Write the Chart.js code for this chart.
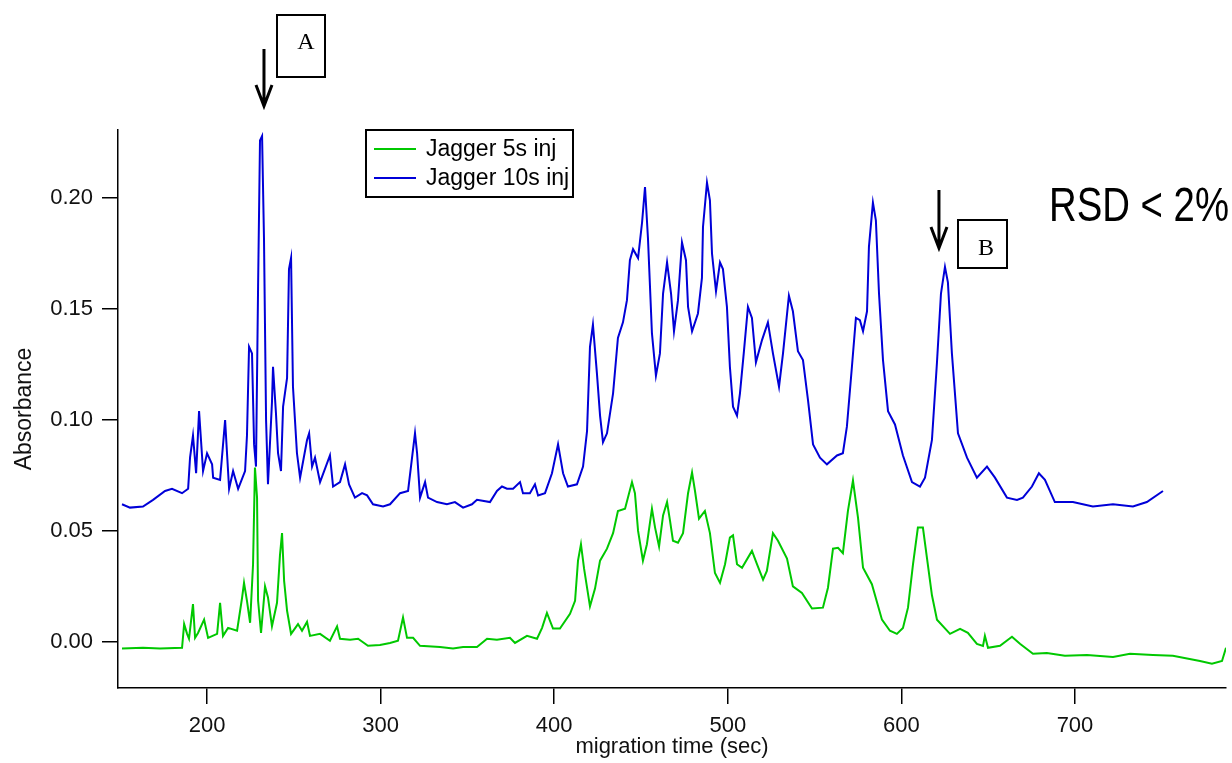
<!DOCTYPE html>
<html>
<head>
<meta charset="utf-8">
<title>Jagger injections</title>
<script src="https://cdn.jsdelivr.net/npm/chart.js@4.4.0/dist/chart.umd.min.js"></script>
<style>
  html, body { margin: 0; padding: 0; background: #fff; }
  #wrap { width: 1232px; height: 763px; }
</style>
</head>
<body>
<div id="wrap"><canvas id="chart" width="1232" height="763"></canvas></div>
<script>
// migration time (sec) and absorbance for each run
const seriesNames = ['Jagger 5s inj', 'Jagger 10s inj'];

const time5 = [
  151.0,163.1,172.9,185.6,186.8,188.5,189.6,191.9,193.1,194.8,
  198.3,200.6,205.8,207.5,209.2,212.1,217.3,220.2,221.3,223.0,
  224.8,226.5,227.6,228.8,229.4,231.1,233.4,235.1,237.4,240.3,
  242.0,243.2,244.4,246.1,248.4,252.4,254.7,257.6,259.3,265.1,
  270.8,274.9,276.6,282.4,287.0,292.7,299.6,305.4,310.0,312.9,
  315.2,318.7,322.7,334.2,341.7,347.5,355.5,361.3,367.0,374.5,
  377.4,384.3,390.1,393.0,395.8,399.3,403.3,409.1,412.0,413.7,
  415.4,417.2,420.6,423.5,426.4,430.4,433.9,436.7,440.8,444.8,
  446.5,448.3,451.1,453.4,456.3,458.1,460.4,462.7,465.0,466.7,
  468.4,471.3,474.2,477.1,479.4,481.1,483.4,486.8,489.7,492.6,
  495.5,498.4,501.2,503.0,505.3,508.2,513.9,516.8,520.3,522.5,
  526.0,528.9,534.1,537.5,542.7,548.5,554.8,557.7,560.6,563.5,
  566.3,569.2,572.1,575.0,577.9,583.0,588.8,593.4,597.4,600.9,
  603.8,606.7,609.5,612.4,614.7,617.6,620.5,628.0,633.8,638.3,
  643.5,647.0,648.1,649.9,656.8,663.7,668.3,675.8,683.8,694.2,
  706.9,721.9,731.7,744.9,756.4,772.0,778.9,784.7,787.0
];
const abs5 = [
  -0.003,-0.0027,-0.003,-0.0027,0.008,0.0036,0.0014,0.017,0.0018,0.004,
  0.010,0.0018,0.0036,0.0176,0.0027,0.0063,0.005,0.020,0.0266,0.0185,
  0.0086,0.035,0.0786,0.065,0.0185,0.004,0.025,0.020,0.007,0.0176,
  0.039,0.049,0.0275,0.014,0.0036,0.008,0.005,0.009,0.0027,0.0036,
  0.0005,0.007,0.0014,0.0009,0.0014,-0.0018,-0.0014,-0.0005,0.0005,0.011,
  0.0018,0.0018,-0.0018,-0.0023,-0.003,-0.0023,-0.0023,0.0014,0.0009,0.0018,
  -0.0005,0.0027,0.0014,0.0063,0.013,0.006,0.006,0.0126,0.0185,0.0366,
  0.044,0.033,0.016,0.024,0.0366,0.042,0.049,0.059,0.060,0.072,
  0.067,0.050,0.0366,0.044,0.060,0.0515,0.043,0.057,0.063,0.0546,
  0.0456,0.0447,0.049,0.067,0.0763,0.068,0.0555,0.059,0.049,0.031,
  0.0266,0.035,0.047,0.048,0.035,0.0334,0.041,0.035,0.028,0.032,
  0.049,0.0456,0.0375,0.025,0.022,0.015,0.0154,0.0244,0.042,0.0424,
  0.040,0.059,0.0727,0.056,0.0334,0.026,0.010,0.005,0.0036,0.0063,
  0.0154,0.035,0.0515,0.0515,0.038,0.021,0.010,0.0036,0.0059,0.0041,
  -0.0009,-0.0018,0.0027,-0.0027,-0.0018,0.0023,-0.0009,-0.0054,-0.005,-0.0063,
  -0.0059,-0.0068,-0.0054,-0.0059,-0.0063,-0.0086,-0.0099,-0.0086,-0.0027
];

const time10 = [
  151.0,155.6,163.1,168.9,175.8,179.8,185.6,189.1,190.2,191.9,
  193.7,195.4,197.7,200.0,202.9,203.5,207.5,210.4,211.5,212.7,
  215.0,217.9,221.9,223.0,224.2,225.9,227.1,228.2,229.4,230.5,
  231.7,232.8,234.0,235.1,237.4,238.0,239.7,240.9,242.6,243.8,
  246.1,247.2,248.4,249.5,251.8,253.6,257.6,258.8,260.5,262.2,
  265.1,270.8,272.6,276.6,279.5,281.8,285.2,289.3,292.2,295.6,
  301.4,305.4,311.2,315.8,318.1,319.8,321.0,322.7,325.6,327.3,
  332.5,338.2,342.8,347.5,352.6,355.5,363.0,367.0,369.9,372.8,
  376.3,380.3,382.0,386.0,388.9,390.7,394.7,398.7,402.2,405.1,
  407.9,413.1,416.6,418.9,420.6,422.3,424.6,426.4,428.1,430.4,
  433.9,436.7,439.6,441.9,443.6,445.4,448.3,450.6,452.3,454.0,
  456.3,458.6,460.9,462.7,465.0,467.3,469.0,471.3,473.6,475.9,
  477.1,479.4,482.8,485.1,485.7,488.0,489.7,490.9,493.2,495.5,
  497.2,499.5,501.2,503.0,505.3,507.0,509.3,511.6,513.9,516.2,
  519.7,523.1,526.0,529.5,531.8,535.2,537.5,540.4,543.3,546.2,
  549.1,553.1,557.1,562.9,566.3,568.6,571.5,573.8,576.1,577.9,
  580.2,581.3,583.6,585.3,587.1,589.4,592.3,596.3,600.9,606.1,
  610.7,613.6,617.6,620.5,622.8,625.1,626.8,629.1,632.6,637.8,
  643.5,649.3,653.9,660.8,666.6,670.0,675.2,679.2,682.7,688.4,
  698.8,710.3,721.9,733.4,741.4,750.7
];
const abs10 = [
  0.062,0.0605,0.061,0.064,0.068,0.069,0.067,0.069,0.083,0.093,
  0.076,0.104,0.077,0.085,0.080,0.074,0.073,0.100,0.085,0.069,
  0.077,0.069,0.077,0.093,0.133,0.130,0.089,0.079,0.160,0.226,
  0.228,0.182,0.100,0.071,0.108,0.124,0.103,0.085,0.077,0.106,
  0.119,0.168,0.173,0.115,0.085,0.074,0.091,0.094,0.079,0.083,
  0.072,0.084,0.070,0.072,0.080,0.071,0.065,0.067,0.066,0.062,
  0.061,0.062,0.067,0.068,0.083,0.094,0.085,0.065,0.072,0.065,
  0.063,0.062,0.063,0.0605,0.062,0.064,0.063,0.068,0.070,0.069,
  0.069,0.072,0.067,0.067,0.071,0.066,0.067,0.076,0.089,0.076,
  0.070,0.071,0.079,0.095,0.133,0.143,0.121,0.102,0.090,0.094,
  0.112,0.137,0.144,0.154,0.172,0.177,0.173,0.189,0.205,0.182,
  0.139,0.120,0.130,0.157,0.171,0.157,0.140,0.154,0.180,0.172,
  0.151,0.140,0.148,0.164,0.187,0.207,0.199,0.175,0.158,0.171,
  0.168,0.151,0.124,0.106,0.102,0.112,0.131,0.151,0.146,0.126,
  0.136,0.144,0.130,0.115,0.130,0.156,0.149,0.131,0.127,0.109,
  0.089,0.083,0.080,0.084,0.085,0.097,0.124,0.146,0.145,0.140,
  0.149,0.178,0.198,0.190,0.157,0.127,0.104,0.098,0.084,0.072,
  0.070,0.074,0.091,0.126,0.157,0.169,0.162,0.130,0.094,0.083,
  0.074,0.079,0.074,0.065,0.064,0.065,0.070,0.076,0.073,0.063,
  0.063,0.061,0.062,0.061,0.063,0.068
];

const xTicks = [200, 300, 400, 500, 600, 700];
const yTicks = [0.00, 0.05, 0.10, 0.15, 0.20];

// marked peaks (sec)
const peakA = 232.8;
const peakB = 625.1;

const narrow = "'Liberation Sans Narrow', 'Arial Narrow', 'Liberation Sans', Arial, sans-serif";
const sans = "'Liberation Sans', Arial, sans-serif";
const serif = "'Liberation Serif', 'Times New Roman', serif";

const toPoints = (xs, ys) => xs.map((x, i) => ({ x: x, y: ys[i] }));

// legend, peak markers and the RSD note
const overlay = {
  id: 'overlay',
  afterDraw(chart) {
    const ctx = chart.ctx;
    const xs = chart.scales.x;
    ctx.save();

    // legend box
    ctx.strokeStyle = '#000';
    ctx.lineWidth = 2;
    ctx.strokeRect(366, 130, 207, 67);
    ctx.font = '23px ' + sans;
    ctx.textBaseline = 'middle';
    ctx.fillStyle = '#000';
    chart.data.datasets.forEach((ds, i) => {
      const y = 150 + i * 29;
      ctx.strokeStyle = ds.borderColor;
      ctx.lineWidth = 2;
      ctx.beginPath();
      ctx.moveTo(374, y - 1);
      ctx.lineTo(416, y - 1);
      ctx.stroke();
      ctx.fillText(ds.label, 426, y);
    });

    // arrows
    const arrow = (x, y0, y1) => {
      ctx.strokeStyle = '#000';
      ctx.lineWidth = 3;
      ctx.beginPath();
      ctx.moveTo(x, y0);
      ctx.lineTo(x, y1);
      ctx.moveTo(x - 8, y1 - 21);
      ctx.lineTo(x, y1);
      ctx.lineTo(x + 8, y1 - 21);
      ctx.stroke();
    };
    arrow(xs.getPixelForValue(peakA), 49, 106);
    arrow(xs.getPixelForValue(peakB) - 6, 190, 248);

    // label boxes
    ctx.lineWidth = 2;
    ctx.strokeStyle = '#000';
    ctx.strokeRect(277, 15, 48, 62);
    ctx.strokeRect(958, 220, 49, 48);
    ctx.font = '24px ' + serif;
    ctx.textAlign = 'center';
    ctx.textBaseline = 'alphabetic';
    ctx.fillText('A', 306, 49);
    ctx.fillText('B', 986, 255);

    // RSD note, squeezed to width
    ctx.font = '49px ' + narrow;
    const w = ctx.measureText('RSD < 2%').width;
    ctx.translate(1049, 221);
    ctx.scale(180 / w, 1);
    ctx.textAlign = 'left';
    ctx.fillText('RSD < 2%', 0, 0);
    ctx.restore();
  }
};

new Chart(document.getElementById('chart'), {
  type: 'line',
  data: {
    datasets: [{
      label: seriesNames[0],
      data: toPoints(time5, abs5),
      borderColor: '#00c800',
      borderWidth: 2,
      pointRadius: 0,
      tension: 0
    }, {
      label: seriesNames[1],
      data: toPoints(time10, abs10),
      borderColor: '#0000d8',
      borderWidth: 2,
      pointRadius: 0,
      tension: 0
    }]
  },
  options: {
    responsive: false,
    animation: false,
    events: [],
    layout: { padding: { top: 130, right: 6, left: 0, bottom: 0 } },
    plugins: {
      legend: { display: false },
      tooltip: { enabled: false }
    },
    scales: {
      x: {
        type: 'linear',
        min: 148.7,
        max: 787,
        afterBuildTicks: s => { s.ticks = xTicks.map(v => ({ value: v })); },
        afterFit: s => { s.height = 75; },
        border: { display: true, color: '#000', width: 1.5 },
        grid: { drawOnChartArea: false, drawTicks: true, tickLength: 16, color: '#000', lineWidth: 1.5 },
        ticks: { color: '#111', font: { family: narrow, size: 22 }, padding: 9, maxRotation: 0 },
        title: {
          display: true,
          text: 'migration time (sec)',
          color: '#111',
          font: { family: narrow, size: 22 },
          padding: { top: 0, bottom: 3 }
        }
      },
      y: {
        min: -0.0208,
        max: 0.2307,
        afterBuildTicks: s => { s.ticks = yTicks.map(v => ({ value: v })); },
        afterFit: s => { s.width = 118; },
        border: { display: true, color: '#000', width: 1.5 },
        grid: { drawOnChartArea: false, drawTicks: true, tickLength: 16, color: '#000', lineWidth: 1.5 },
        ticks: {
          color: '#111',
          font: { family: narrow, size: 22 },
          padding: 9,
          callback: v => v.toFixed(2)
        },
        title: {
          display: true,
          text: 'Absorbance',
          color: '#111',
          font: { family: narrow, size: 23 },
          padding: { top: 11, bottom: 0 }
        }
      }
    }
  },
  plugins: [overlay]
});
</script>
</body>
</html>
